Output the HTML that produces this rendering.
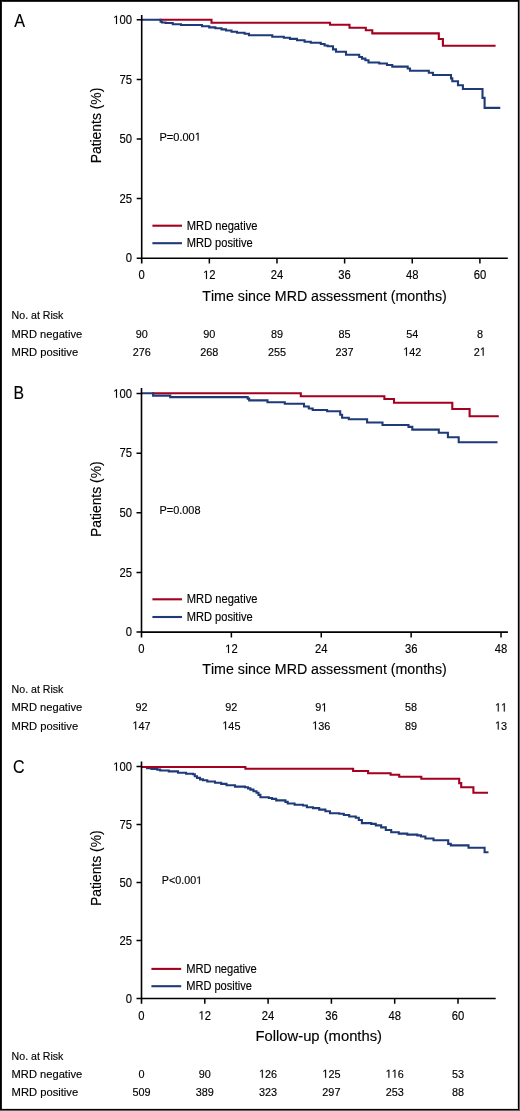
<!DOCTYPE html>
<html><head><meta charset="utf-8"><style>
html,body{margin:0;padding:0;background:#fff;}
body{width:520px;height:1111px;overflow:hidden;position:relative;}
svg{position:absolute;left:0;top:0;display:block;}
svg.txt{filter:grayscale(1);}
.one{fill-opacity:0;stroke-opacity:0;}
text{font-kerning:none;font-family:"Liberation Sans", sans-serif;fill:#000;stroke:#000;stroke-width:0.15px;}
</style></head><body>
<svg width="520" height="1111" viewBox="0 0 520 1111">
<rect x="0" y="0" width="520" height="1111" fill="#fff"/>
<g transform="translate(0,0)">
<path d="M159.5,19.7 H211.5 V22.8 H330 V24.8 H349.5 V27.8 H365.8 V30.2 H372.3 V33.4 H438.8 V39 H442.9 V45.8 H495.6" fill="none" stroke="#a4001f" stroke-width="2.1" stroke-linejoin="miter" stroke-linecap="butt"/>
<path d="M141.7,19.7 H160.6 V21.75 H162 V22.5 H165.6 V23 H172.75 V24.25 H181 V25 H202 V26.3 H209.2 V27.4 H215.4 V28.3 H221.5 V29.4 H226 V30.5 H231.5 V31.7 H237 V32.8 H244.6 V33.7 H249 V35.2 H272.3 V36.8 H283.8 V37.8 H290 V38.9 H297 V40.2 H304.6 V41.7 H310.8 V42.8 H320.8 V44 H324.6 V45.5 H327.7 V46.3 H333 V49.4 H336 V51.7 H346 V54.8 H359.2 V57 H362 V58.6 H365.4 V60.2 H368.5 V62.5 H379.2 V63.5 H387 V65 H392.3 V66.6 H407.7 V68.5 H410 V70.7 H428.8 V72.7 H433 V75 H451 V78.4 H452.3 V81.3 H458 V85.2 H462.9 V89 H482.5 V97.9 H484.6 V107.9 H500.3" fill="none" stroke="#1e3a78" stroke-width="2.1" stroke-linejoin="miter" stroke-linecap="butt"/>
</g>
<path d="M141.7,15.1V263.5M141.7,258.2H507.8" fill="none" stroke="#000" stroke-width="1.6"/>
<path d="M136.7,258.20H141.7M136.7,198.60H141.7M136.7,139.00H141.7M136.7,79.40H141.7M136.7,19.80H141.7M209.34,258.2V263.5M276.98,258.2V263.5M344.62,258.2V263.5M412.26,258.2V263.5M479.90,258.2V263.5" fill="none" stroke="#000" stroke-width="1.5"/>
<path d="M152.4,225.7H182" stroke="#a4001f" stroke-width="2.1"/>
<path d="M152.4,243.2H182" stroke="#1e3a78" stroke-width="2.1"/>
<g transform="translate(0,0)">
<path d="M152,393.3 H300.8 V396.2 H384.4 V399 H394 V402.8 H452.3 V409 H469.6 V416.2 H498.8" fill="none" stroke="#a4001f" stroke-width="2.1" stroke-linejoin="miter" stroke-linecap="butt"/>
<path d="M141.5,393.3 H153.1 V395.6 H170.2 V397.1 H247.7 V398.6 H249.2 V400.4 H267.5 V402.3 H284.8 V403.7 H304 V406.5 H308.8 V408.5 H312.7 V410 H327.1 V411.3 H340.2 V414.8 H342.1 V417.7 H348.8 V419.2 H367.1 V422.5 H382.5 V425 H408.5 V426.9 H412.3 V429.6 H438.8 V432.7 H447.9 V437.3 H458.7 V442.3 H497.5" fill="none" stroke="#1e3a78" stroke-width="2.1" stroke-linejoin="miter" stroke-linecap="butt"/>
</g>
<path d="M141.5,388.1V637.4M141.5,632.1H507.9" fill="none" stroke="#000" stroke-width="1.6"/>
<path d="M136.5,632.10H141.5M136.5,572.45H141.5M136.5,512.80H141.5M136.5,453.15H141.5M136.5,393.50H141.5M231.38,632.1V637.4M321.26,632.1V637.4M411.14,632.1V637.4M501.02,632.1V637.4" fill="none" stroke="#000" stroke-width="1.5"/>
<path d="M152.4,599.3H182" stroke="#a4001f" stroke-width="2.1"/>
<path d="M152.4,617.0H182" stroke="#1e3a78" stroke-width="2.1"/>
<g transform="translate(0,0.4)">
<path d="M145,766.6 H147 V767.8 H151.5 V768.6 H157.3 V769.2 H160.2 V770.1 H168.8 V771 H178 V772.4 H186.1 V773.3 H193 V773.8 H194.8 V775.8 H197 V777.5 H200 V779 H203 V779.8 H207.3 V781.1 H215 V782.3 H221.2 V783.5 H226.5 V784.9 H235 V786.2 H245 V786.9 H248 V788 H250.4 V789.2 H253.5 V790.8 H256.5 V792.3 H258.5 V794.5 H260.4 V796.9 H268.8 V797.6 H272 V798.5 H276.2 V800 H285.4 V801.5 H287.7 V803.1 H294.6 V804.3 H303 V805.1 H306.9 V806.9 H313 V807.7 H319.2 V809.2 H325.4 V810.8 H330 V812.8 H339.2 V813.4 H343.8 V814.6 H349.2 V816.1 H355.8 V817.3 H358.8 V819.6 H361.9 V822.7 H371.2 V823.5 H375.8 V825 H381.2 V827 H385.8 V829.6 H391.2 V831.9 H398.8 V833.2 H407.3 V834.2 H417.3 V835 H421 V836.1 H425.4 V838.1 H433.5 V839.9 H448.2 V843.5 H450.8 V845 H468.5 V847.3 H484.6 V851.9 H488.5" fill="none" stroke="#1e3a78" stroke-width="2.1" stroke-linejoin="miter" stroke-linecap="butt"/>
<path d="M141.5,766.6 H245.4 V768.3 H353.1 V770.6 H368.1 V772.9 H390.6 V774.4 H399.2 V776.3 H421.3 V778.3 H459.2 V782.7 H461.2 V786.8 H473.4 V792.4 H488" fill="none" stroke="#a4001f" stroke-width="2.1" stroke-linejoin="miter" stroke-linecap="butt"/>
</g>
<path d="M141.5,761.5V1003.8M141.5,998.5H495.7" fill="none" stroke="#000" stroke-width="1.6"/>
<path d="M136.5,998.50H141.5M136.5,940.52H141.5M136.5,882.55H141.5M136.5,824.58H141.5M136.5,766.60H141.5M204.80,998.5V1003.8M268.10,998.5V1003.8M331.40,998.5V1003.8M394.70,998.5V1003.8M458.00,998.5V1003.8" fill="none" stroke="#000" stroke-width="1.5"/>
<path d="M151.4,968.9H181.2" stroke="#a4001f" stroke-width="2.1"/>
<path d="M151.4,986.1999999999999H181.2" stroke="#1e3a78" stroke-width="2.1"/>
<g shape-rendering="crispEdges">
<rect x="517" y="1" width="1" height="1108" fill="#d6d6d6"/>
<rect x="1" y="1108" width="517" height="1" fill="#e0e0e0"/>
<rect x="1" y="1" width="1" height="1109" fill="#1e1e1e"/>
<rect x="1" y="1" width="518" height="1" fill="#2a2a2a"/>
<rect x="0" y="0" width="520" height="1" fill="#000"/>
<rect x="0" y="0" width="1" height="1111" fill="#000"/>
<rect x="518" y="1" width="1" height="1109" fill="#000"/>
<rect x="1" y="1109" width="518" height="1" fill="#000"/>
<rect x="519" y="0" width="1" height="1111" fill="#646464"/>
<rect x="0" y="1110" width="520" height="1" fill="#626262"/>
</g>
</svg>
<svg class="txt" width="520" height="1111" viewBox="0 0 520 1111">
<text x="131.9" y="262.40" font-size="12.1" text-anchor="end" textLength="6.26" lengthAdjust="spacingAndGlyphs">0</text>
<text x="131.9" y="202.80" font-size="12.1" text-anchor="end" textLength="12.52" lengthAdjust="spacingAndGlyphs">25</text>
<text x="131.9" y="143.20" font-size="12.1" text-anchor="end" textLength="12.52" lengthAdjust="spacingAndGlyphs">50</text>
<text x="131.9" y="83.60" font-size="12.1" text-anchor="end" textLength="12.52" lengthAdjust="spacingAndGlyphs">75</text>
<text x="131.9" y="24.00" font-size="12.1" text-anchor="end" textLength="18.78" lengthAdjust="spacingAndGlyphs"><tspan class="one">1</tspan>00</text>
<text x="141.70" y="279.0" font-size="12.1" text-anchor="middle" textLength="6.26" lengthAdjust="spacingAndGlyphs">0</text>
<text x="209.34" y="279.0" font-size="12.1" text-anchor="middle" textLength="12.52" lengthAdjust="spacingAndGlyphs"><tspan class="one">1</tspan>2</text>
<text x="276.98" y="279.0" font-size="12.1" text-anchor="middle" textLength="12.52" lengthAdjust="spacingAndGlyphs">24</text>
<text x="344.62" y="279.0" font-size="12.1" text-anchor="middle" textLength="12.52" lengthAdjust="spacingAndGlyphs">36</text>
<text x="412.26" y="279.0" font-size="12.1" text-anchor="middle" textLength="12.52" lengthAdjust="spacingAndGlyphs">48</text>
<text x="479.90" y="279.0" font-size="12.1" text-anchor="middle" textLength="12.52" lengthAdjust="spacingAndGlyphs">60</text>
<text x="202.3" y="300.5" font-size="15.2" textLength="244.5" lengthAdjust="spacingAndGlyphs">Time since MRD assessment (months)</text>
<text transform="translate(101.3,163.3) rotate(-90)" font-size="15.2" textLength="75.6" lengthAdjust="spacingAndGlyphs">Patients (%)</text>
<text x="14.17" y="26.6" font-size="18" textLength="10.77" lengthAdjust="spacingAndGlyphs">A</text>
<text x="159.5" y="140.5" font-size="11.2" textLength="41.4" lengthAdjust="spacingAndGlyphs">P=0.00<tspan class="one">1</tspan></text>
<text x="186.8" y="229.70" font-size="12" textLength="70.6" lengthAdjust="spacingAndGlyphs">MRD negative</text>
<text x="186.8" y="247.20" font-size="12" textLength="65.8" lengthAdjust="spacingAndGlyphs">MRD positive</text>
<text x="11.6" y="319.45" font-size="11.7" textLength="51.8" lengthAdjust="spacingAndGlyphs">No. at Risk</text>
<text x="11.6" y="337.55" font-size="11.7" textLength="70.6" lengthAdjust="spacingAndGlyphs">MRD negative</text>
<text x="11.6" y="355.65" font-size="11.7" textLength="66.6" lengthAdjust="spacingAndGlyphs">MRD positive</text>
<text x="141.70" y="337.55" font-size="11.7" text-anchor="middle" textLength="12.1" lengthAdjust="spacingAndGlyphs">90</text>
<text x="141.70" y="355.65" font-size="11.7" text-anchor="middle" textLength="18.15" lengthAdjust="spacingAndGlyphs">276</text>
<text x="209.34" y="337.55" font-size="11.7" text-anchor="middle" textLength="12.1" lengthAdjust="spacingAndGlyphs">90</text>
<text x="209.34" y="355.65" font-size="11.7" text-anchor="middle" textLength="18.15" lengthAdjust="spacingAndGlyphs">268</text>
<text x="276.98" y="337.55" font-size="11.7" text-anchor="middle" textLength="12.1" lengthAdjust="spacingAndGlyphs">89</text>
<text x="276.98" y="355.65" font-size="11.7" text-anchor="middle" textLength="18.15" lengthAdjust="spacingAndGlyphs">255</text>
<text x="344.62" y="337.55" font-size="11.7" text-anchor="middle" textLength="12.1" lengthAdjust="spacingAndGlyphs">85</text>
<text x="344.62" y="355.65" font-size="11.7" text-anchor="middle" textLength="18.15" lengthAdjust="spacingAndGlyphs">237</text>
<text x="412.26" y="337.55" font-size="11.7" text-anchor="middle" textLength="12.1" lengthAdjust="spacingAndGlyphs">54</text>
<text x="412.26" y="355.65" font-size="11.7" text-anchor="middle" textLength="18.15" lengthAdjust="spacingAndGlyphs"><tspan class="one">1</tspan>42</text>
<text x="479.90" y="337.55" font-size="11.7" text-anchor="middle" textLength="6.05" lengthAdjust="spacingAndGlyphs">8</text>
<text x="479.90" y="355.65" font-size="11.7" text-anchor="middle" textLength="12.1" lengthAdjust="spacingAndGlyphs">2<tspan class="one">1</tspan></text>
<text x="131.9" y="636.30" font-size="12.1" text-anchor="end" textLength="6.26" lengthAdjust="spacingAndGlyphs">0</text>
<text x="131.9" y="576.65" font-size="12.1" text-anchor="end" textLength="12.52" lengthAdjust="spacingAndGlyphs">25</text>
<text x="131.9" y="517.00" font-size="12.1" text-anchor="end" textLength="12.52" lengthAdjust="spacingAndGlyphs">50</text>
<text x="131.9" y="457.35" font-size="12.1" text-anchor="end" textLength="12.52" lengthAdjust="spacingAndGlyphs">75</text>
<text x="131.9" y="397.70" font-size="12.1" text-anchor="end" textLength="18.78" lengthAdjust="spacingAndGlyphs"><tspan class="one">1</tspan>00</text>
<text x="141.50" y="653.0" font-size="12.1" text-anchor="middle" textLength="6.26" lengthAdjust="spacingAndGlyphs">0</text>
<text x="231.38" y="653.0" font-size="12.1" text-anchor="middle" textLength="12.52" lengthAdjust="spacingAndGlyphs"><tspan class="one">1</tspan>2</text>
<text x="321.26" y="653.0" font-size="12.1" text-anchor="middle" textLength="12.52" lengthAdjust="spacingAndGlyphs">24</text>
<text x="411.14" y="653.0" font-size="12.1" text-anchor="middle" textLength="12.52" lengthAdjust="spacingAndGlyphs">36</text>
<text x="501.02" y="653.0" font-size="12.1" text-anchor="middle" textLength="12.52" lengthAdjust="spacingAndGlyphs">48</text>
<text x="202.3" y="674.4" font-size="15.2" textLength="244.5" lengthAdjust="spacingAndGlyphs">Time since MRD assessment (months)</text>
<text transform="translate(101.3,537.0) rotate(-90)" font-size="15.2" textLength="75.6" lengthAdjust="spacingAndGlyphs">Patients (%)</text>
<text x="13.5" y="399.3" font-size="18.3" textLength="10.53" lengthAdjust="spacingAndGlyphs">B</text>
<text x="159.5" y="514.1" font-size="11.2" textLength="41.0" lengthAdjust="spacingAndGlyphs">P=0.008</text>
<text x="186.8" y="603.30" font-size="12" textLength="70.6" lengthAdjust="spacingAndGlyphs">MRD negative</text>
<text x="186.8" y="621.00" font-size="12" textLength="65.8" lengthAdjust="spacingAndGlyphs">MRD positive</text>
<text x="11.6" y="693.30" font-size="11.7" textLength="51.8" lengthAdjust="spacingAndGlyphs">No. at Risk</text>
<text x="11.6" y="711.40" font-size="11.7" textLength="70.6" lengthAdjust="spacingAndGlyphs">MRD negative</text>
<text x="11.6" y="729.50" font-size="11.7" textLength="66.6" lengthAdjust="spacingAndGlyphs">MRD positive</text>
<text x="141.50" y="711.40" font-size="11.7" text-anchor="middle" textLength="12.1" lengthAdjust="spacingAndGlyphs">92</text>
<text x="141.50" y="729.50" font-size="11.7" text-anchor="middle" textLength="18.15" lengthAdjust="spacingAndGlyphs"><tspan class="one">1</tspan>47</text>
<text x="231.38" y="711.40" font-size="11.7" text-anchor="middle" textLength="12.1" lengthAdjust="spacingAndGlyphs">92</text>
<text x="231.38" y="729.50" font-size="11.7" text-anchor="middle" textLength="18.15" lengthAdjust="spacingAndGlyphs"><tspan class="one">1</tspan>45</text>
<text x="321.26" y="711.40" font-size="11.7" text-anchor="middle" textLength="12.1" lengthAdjust="spacingAndGlyphs">9<tspan class="one">1</tspan></text>
<text x="321.26" y="729.50" font-size="11.7" text-anchor="middle" textLength="18.15" lengthAdjust="spacingAndGlyphs"><tspan class="one">1</tspan>36</text>
<text x="411.14" y="711.40" font-size="11.7" text-anchor="middle" textLength="12.1" lengthAdjust="spacingAndGlyphs">58</text>
<text x="411.14" y="729.50" font-size="11.7" text-anchor="middle" textLength="12.1" lengthAdjust="spacingAndGlyphs">89</text>
<text x="501.02" y="711.40" font-size="11.7" text-anchor="middle" textLength="12.1" lengthAdjust="spacingAndGlyphs"><tspan class="one">1</tspan><tspan class="one">1</tspan></text>
<text x="501.02" y="729.50" font-size="11.7" text-anchor="middle" textLength="12.1" lengthAdjust="spacingAndGlyphs"><tspan class="one">1</tspan>3</text>
<text x="131.9" y="1002.70" font-size="12.1" text-anchor="end" textLength="6.26" lengthAdjust="spacingAndGlyphs">0</text>
<text x="131.9" y="944.73" font-size="12.1" text-anchor="end" textLength="12.52" lengthAdjust="spacingAndGlyphs">25</text>
<text x="131.9" y="886.75" font-size="12.1" text-anchor="end" textLength="12.52" lengthAdjust="spacingAndGlyphs">50</text>
<text x="131.9" y="828.78" font-size="12.1" text-anchor="end" textLength="12.52" lengthAdjust="spacingAndGlyphs">75</text>
<text x="131.9" y="770.80" font-size="12.1" text-anchor="end" textLength="18.78" lengthAdjust="spacingAndGlyphs"><tspan class="one">1</tspan>00</text>
<text x="141.50" y="1019.5" font-size="12.1" text-anchor="middle" textLength="6.26" lengthAdjust="spacingAndGlyphs">0</text>
<text x="204.80" y="1019.5" font-size="12.1" text-anchor="middle" textLength="12.52" lengthAdjust="spacingAndGlyphs"><tspan class="one">1</tspan>2</text>
<text x="268.10" y="1019.5" font-size="12.1" text-anchor="middle" textLength="12.52" lengthAdjust="spacingAndGlyphs">24</text>
<text x="331.40" y="1019.5" font-size="12.1" text-anchor="middle" textLength="12.52" lengthAdjust="spacingAndGlyphs">36</text>
<text x="394.70" y="1019.5" font-size="12.1" text-anchor="middle" textLength="12.52" lengthAdjust="spacingAndGlyphs">48</text>
<text x="458.00" y="1019.5" font-size="12.1" text-anchor="middle" textLength="12.52" lengthAdjust="spacingAndGlyphs">60</text>
<text x="255.5" y="1040.8" font-size="15.2" textLength="126.5" lengthAdjust="spacingAndGlyphs">Follow-up (months)</text>
<text transform="translate(101.3,906.0) rotate(-90)" font-size="15.2" textLength="75.6" lengthAdjust="spacingAndGlyphs">Patients (%)</text>
<text x="13.09" y="773.4" font-size="18.5" textLength="11.52" lengthAdjust="spacingAndGlyphs">C</text>
<text x="161.8" y="884.1" font-size="11.2" textLength="40.3" lengthAdjust="spacingAndGlyphs">P&lt;0.00<tspan class="one">1</tspan></text>
<text x="186.2" y="972.90" font-size="12" textLength="70.6" lengthAdjust="spacingAndGlyphs">MRD negative</text>
<text x="186.2" y="990.20" font-size="12" textLength="65.8" lengthAdjust="spacingAndGlyphs">MRD positive</text>
<text x="11.6" y="1059.70" font-size="11.7" textLength="51.8" lengthAdjust="spacingAndGlyphs">No. at Risk</text>
<text x="11.6" y="1077.80" font-size="11.7" textLength="70.6" lengthAdjust="spacingAndGlyphs">MRD negative</text>
<text x="11.6" y="1095.90" font-size="11.7" textLength="66.6" lengthAdjust="spacingAndGlyphs">MRD positive</text>
<text x="141.50" y="1077.80" font-size="11.7" text-anchor="middle" textLength="6.05" lengthAdjust="spacingAndGlyphs">0</text>
<text x="141.50" y="1095.90" font-size="11.7" text-anchor="middle" textLength="18.15" lengthAdjust="spacingAndGlyphs">509</text>
<text x="204.80" y="1077.80" font-size="11.7" text-anchor="middle" textLength="12.1" lengthAdjust="spacingAndGlyphs">90</text>
<text x="204.80" y="1095.90" font-size="11.7" text-anchor="middle" textLength="18.15" lengthAdjust="spacingAndGlyphs">389</text>
<text x="268.10" y="1077.80" font-size="11.7" text-anchor="middle" textLength="18.15" lengthAdjust="spacingAndGlyphs"><tspan class="one">1</tspan>26</text>
<text x="268.10" y="1095.90" font-size="11.7" text-anchor="middle" textLength="18.15" lengthAdjust="spacingAndGlyphs">323</text>
<text x="331.40" y="1077.80" font-size="11.7" text-anchor="middle" textLength="18.15" lengthAdjust="spacingAndGlyphs"><tspan class="one">1</tspan>25</text>
<text x="331.40" y="1095.90" font-size="11.7" text-anchor="middle" textLength="18.15" lengthAdjust="spacingAndGlyphs">297</text>
<text x="394.70" y="1077.80" font-size="11.7" text-anchor="middle" textLength="18.15" lengthAdjust="spacingAndGlyphs"><tspan class="one">1</tspan><tspan class="one">1</tspan>6</text>
<text x="394.70" y="1095.90" font-size="11.7" text-anchor="middle" textLength="18.15" lengthAdjust="spacingAndGlyphs">253</text>
<text x="458.00" y="1077.80" font-size="11.7" text-anchor="middle" textLength="12.1" lengthAdjust="spacingAndGlyphs">53</text>
<text x="458.00" y="1095.90" font-size="11.7" text-anchor="middle" textLength="12.1" lengthAdjust="spacingAndGlyphs">88</text>
<g id="ones" fill="#000" stroke="#000" stroke-width="26.3"><path transform="matrix(0.00550,0,0,-0.00591,113.12,24.00)" d="M525,0L525,1237L207,1010L207,1180L540,1409L706,1409L706,0Z"/><path transform="matrix(0.00550,0,0,-0.00591,203.08,279.00)" d="M525,0L525,1237L207,1010L207,1180L540,1409L706,1409L706,0Z"/><path transform="matrix(0.00539,0,0,-0.00547,194.76,140.50)" d="M525,0L525,1237L207,1010L207,1180L540,1409L706,1409L706,0Z"/><path transform="matrix(0.00532,0,0,-0.00571,403.18,355.65)" d="M525,0L525,1237L207,1010L207,1180L540,1409L706,1409L706,0Z"/><path transform="matrix(0.00531,0,0,-0.00571,479.90,355.65)" d="M525,0L525,1237L207,1010L207,1180L540,1409L706,1409L706,0Z"/><path transform="matrix(0.00550,0,0,-0.00591,113.12,397.70)" d="M525,0L525,1237L207,1010L207,1180L540,1409L706,1409L706,0Z"/><path transform="matrix(0.00550,0,0,-0.00591,225.12,653.00)" d="M525,0L525,1237L207,1010L207,1180L540,1409L706,1409L706,0Z"/><path transform="matrix(0.00532,0,0,-0.00571,132.43,729.50)" d="M525,0L525,1237L207,1010L207,1180L540,1409L706,1409L706,0Z"/><path transform="matrix(0.00532,0,0,-0.00571,222.31,729.50)" d="M525,0L525,1237L207,1010L207,1180L540,1409L706,1409L706,0Z"/><path transform="matrix(0.00531,0,0,-0.00571,321.26,711.40)" d="M525,0L525,1237L207,1010L207,1180L540,1409L706,1409L706,0Z"/><path transform="matrix(0.00532,0,0,-0.00571,312.18,729.50)" d="M525,0L525,1237L207,1010L207,1180L540,1409L706,1409L706,0Z"/><path transform="matrix(0.00531,0,0,-0.00571,494.97,711.40)" d="M525,0L525,1237L207,1010L207,1180L540,1409L706,1409L706,0Z"/><path transform="matrix(0.00531,0,0,-0.00571,501.02,711.40)" d="M525,0L525,1237L207,1010L207,1180L540,1409L706,1409L706,0Z"/><path transform="matrix(0.00531,0,0,-0.00571,494.97,729.50)" d="M525,0L525,1237L207,1010L207,1180L540,1409L706,1409L706,0Z"/><path transform="matrix(0.00550,0,0,-0.00591,113.12,770.80)" d="M525,0L525,1237L207,1010L207,1180L540,1409L706,1409L706,0Z"/><path transform="matrix(0.00550,0,0,-0.00591,198.54,1019.50)" d="M525,0L525,1237L207,1010L207,1180L540,1409L706,1409L706,0Z"/><path transform="matrix(0.00525,0,0,-0.00547,196.12,884.10)" d="M525,0L525,1237L207,1010L207,1180L540,1409L706,1409L706,0Z"/><path transform="matrix(0.00532,0,0,-0.00571,259.03,1077.80)" d="M525,0L525,1237L207,1010L207,1180L540,1409L706,1409L706,0Z"/><path transform="matrix(0.00532,0,0,-0.00571,322.33,1077.80)" d="M525,0L525,1237L207,1010L207,1180L540,1409L706,1409L706,0Z"/><path transform="matrix(0.00531,0,0,-0.00571,385.62,1077.80)" d="M525,0L525,1237L207,1010L207,1180L540,1409L706,1409L706,0Z"/><path transform="matrix(0.00531,0,0,-0.00571,391.67,1077.80)" d="M525,0L525,1237L207,1010L207,1180L540,1409L706,1409L706,0Z"/></g>
</svg>
</body></html>
